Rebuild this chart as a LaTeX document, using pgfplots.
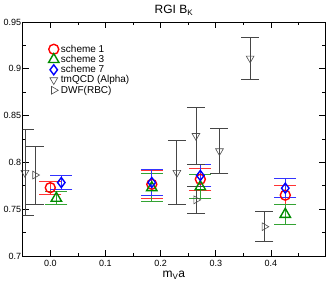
\documentclass[border=0pt]{standalone}
\usepackage{pgfplots}
\pgfplotsset{compat=1.18}
\usepackage{fontspec}
\setmainfont{Liberation Sans}
\definecolor{sgreen}{RGB}{0,140,0}
\definecolor{dgray}{RGB}{70,70,70}
\begin{document}
\begin{tikzpicture}
\begin{axis}[
  name=ax,
  scale only axis, width=302.3pt, height=234pt,
  xmin=-0.05, xmax=0.498, ymin=0.7, ymax=0.95,
  xtick={0,0.1,0.2,0.3,0.4},
  xticklabels={0.0,0.1,0.2,0.3,0.4},
  minor xtick={0.05,0.15,0.25,0.35,0.45},
  ytick={0.7,0.75,0.8,0.85,0.9,0.95},
  yticklabels={0.7,0.75,0.8,0.85,0.9,0.95},
  minor ytick={0.725,0.775,0.825,0.875,0.925},
  tick align=inside, major tick length=6pt, minor tick length=3.5pt,
  tick style={black, line width=0.6pt},
  axis line style={line width=0.6pt},
  ticklabel style={font=\fontsize{9}{10}\selectfont},
  xticklabel style={yshift=-1pt},
  yticklabel style={xshift=2pt},
  title={RGI B$_{\mathrm{K}}$}, title style={font=\fontsize{12}{13}\selectfont, yshift=-3pt},
  xlabel={m$_{\mathrm{V}}$a}, xlabel style={font=\fontsize{12}{13}\selectfont, yshift=3pt},
  legend style={draw=none, fill=none, at={(0.075,0.92)}, anchor=north west, font=\fontsize{10}{11}\selectfont, row sep=-2.5pt},
  legend cell align=left,
  clip=true,
]
% scheme 1
\addplot[only marks, color=red, mark=o, mark size=5pt, mark options={line width=1.4pt},
  error bars/.cd, y dir=both, y explicit,
  error bar style={line width=1pt, red!80},
  error mark options={rotate=90, mark size=11pt, line width=1pt, red!80}]
  coordinates {(0.0,0.773) +- (0,0.007) (0.184,0.7766) +- (0,0.015) (0.272,0.782) +- (0,0.012) (0.426,0.765) +- (0,0.010)};
\addlegendentry{scheme 1}
% scheme 3
\addplot[only marks, color=sgreen, mark=triangle, mark size=6pt, mark options={line width=1.4pt},
  error bars/.cd, y dir=both, y explicit,
  error bar style={line width=1pt, sgreen!80},
  error mark options={rotate=90, mark size=11pt, line width=1pt, sgreen!80}]
  coordinates {(0.011,0.7617) +- (0,0.007) (0.184,0.773) +- (0,0.015) (0.272,0.774) +- (0,0.013) (0.426,0.7445) +- (0,0.0105)};
\addlegendentry{scheme 3}
% scheme 7
\addplot[only marks, color=blue, mark=diamond, mark size=5pt, mark options={line width=1.4pt},
  error bars/.cd, y dir=both, y explicit,
  error bar style={line width=1pt, blue!80},
  error mark options={rotate=90, mark size=11pt, line width=1pt, blue!80}]
  coordinates {(0.020,0.7785) +- (0,0.007) (0.184,0.7785) +- (0,0.014) (0.272,0.786) +- (0,0.012) (0.426,0.7725) +- (0,0.010)};
\addlegendentry{scheme 7}
% tmQCD
\addplot[only marks, color=dgray, mark=triangle, mark size=4.5pt, mark options={rotate=180, line width=0.6pt, draw=black!70, fill=white},
  error bars/.cd, y dir=both, y explicit,
  error bar style={line width=0.8pt, dgray},
  error mark options={rotate=90, mark size=9pt, line width=0.8pt, dgray}]
  coordinates {(-0.046,0.789) +- (0,0.046) (0.2295,0.789) +- (0,0.034) (0.264,0.8285) +- (0,0.0305) (0.3067,0.8122) +- (0,0.0237) (0.3623,0.9112) +- (0,0.022)};
\addlegendentry{tmQCD (Alpha)}
% DWF
\addplot[only marks, color=dgray, mark=triangle, mark size=4.5pt, mark options={rotate=-90, line width=0.6pt, draw=black!70, fill=white},
  error bars/.cd, y dir=both, y explicit,
  error bar style={line width=0.8pt, dgray},
  error mark options={rotate=90, mark size=9pt, line width=0.8pt, dgray}]
  coordinates {(-0.0277,0.7865) +- (0,0.031) (0.2645,0.760) +- (0,0.0148) (0.388,0.7313) +- (0,0.016)};
\addlegendentry{DWF(RBC)}
\end{axis}
\pgfresetboundingbox
\path[use as bounding box] ([shift={(-22.7pt,-26pt)}]ax.south west) rectangle ([shift={(2pt,22pt)}]ax.north east);
\end{tikzpicture}
\end{document}
